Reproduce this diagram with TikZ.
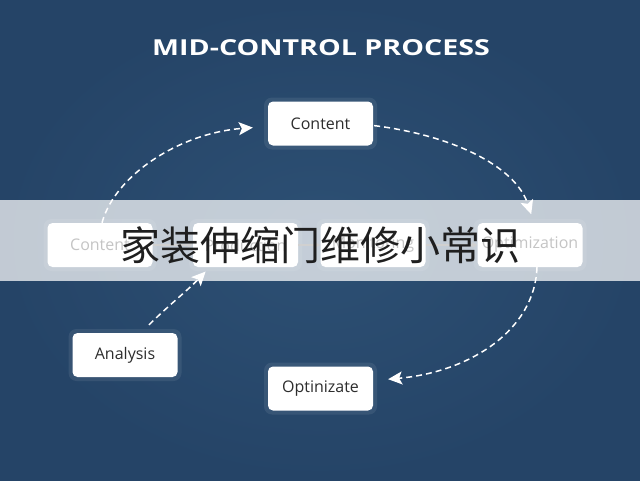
\documentclass[tikz,border=0pt]{standalone}
\usepackage{fontspec}
\setmainfont{Open Sans}
\newfontfamily\cjk{Noto Sans CJK SC}
\usetikzlibrary{arrows.meta}
\definecolor{bgin}{RGB}{45,80,116}
\definecolor{bgout}{RGB}{37,68,103}
\definecolor{textc}{RGB}{45,45,45}
\tikzset{
  box/.style={fill=white, rounded corners=5pt, minimum width=105pt, minimum height=44pt,
    inner sep=0pt, text=textc, font=\fontsize{16}{16}\selectfont},
  glow/.style={fill=white, fill opacity=0.08, rounded corners=8pt, minimum width=113pt,
    minimum height=52pt, inner sep=0pt},
  flow/.style={draw=white, line width=1.5pt, dash pattern=on 6pt off 4pt,
    -{Stealth[length=14pt,width=13pt,inset=3pt]}},
  smallarrow/.style={draw=textc!80, line width=1.2pt, -{Stealth[length=6pt,width=6pt]}},
}
\begin{document}
\begin{tikzpicture}[x=1pt,y=-1pt]
\shade[inner color=bgin, outer color=bgout] (0,0) rectangle (640,480);
\useasboundingbox (0,0) rectangle (640,480);

\node[text=white, font=\bfseries\fontsize{22}{22}\selectfont] (title) at (321,48)
  {\scalebox{1.3}[1]{MID-CONTROL PROCESS}};

% glows
\foreach \p in {(320.5,123.5),(100,245),(245.5,245),(373,245),(530,245),(125,355),(320.5,388.5)}
  \node[glow] at \p {};

\node[box] (top) at (320.5,123.5) {Content};
\node[box] (m1) at (100,245) {Content};
\node[box] (m2) at (245.5,245) {Production};
\node[box] (m3) at (373,245) {Monitoring};
\node[box] (m4) at (530,245) {Optimization};
\node[box] (analysis) at (125,355) {Analysis};
\node[box] (opt) at (320.5,388.5) {Optinizate};

\draw[smallarrow] (m1.east) -- (m2.west);
\draw[smallarrow] (m2.east) -- (m3.west);
\draw[smallarrow] (m3.east) -- (m4.west);

\draw[flow, shorten >=15pt] ([xshift=2pt]m1.north) .. controls (115,175) and (180,133) .. ([yshift=-3pt]top.west);
\draw[flow, shorten <=1pt, shorten >=9pt] ([yshift=-2pt]top.east) .. controls (450,135) and (515,165) .. ([xshift=4pt]m4.north);
\draw[flow, shorten >=15pt] ([xshift=7pt]m4.south) .. controls (535,330) and (470,372) .. ([yshift=8pt]opt.east);
\draw[flow, shorten >=6pt] ([xshift=24pt,yshift=8pt]analysis.north) .. controls (168,306) and (188,290) .. ([xshift=17pt]m2.south west);

% overlay band
\fill[white, opacity=0.72] (0,200) rectangle (640,281);
\node[font=\cjk\fontsize{40}{40}\selectfont, text=black!88] (cn) at (320,245) {家装伸缩门维修小常识};
\end{tikzpicture}
\end{document}
